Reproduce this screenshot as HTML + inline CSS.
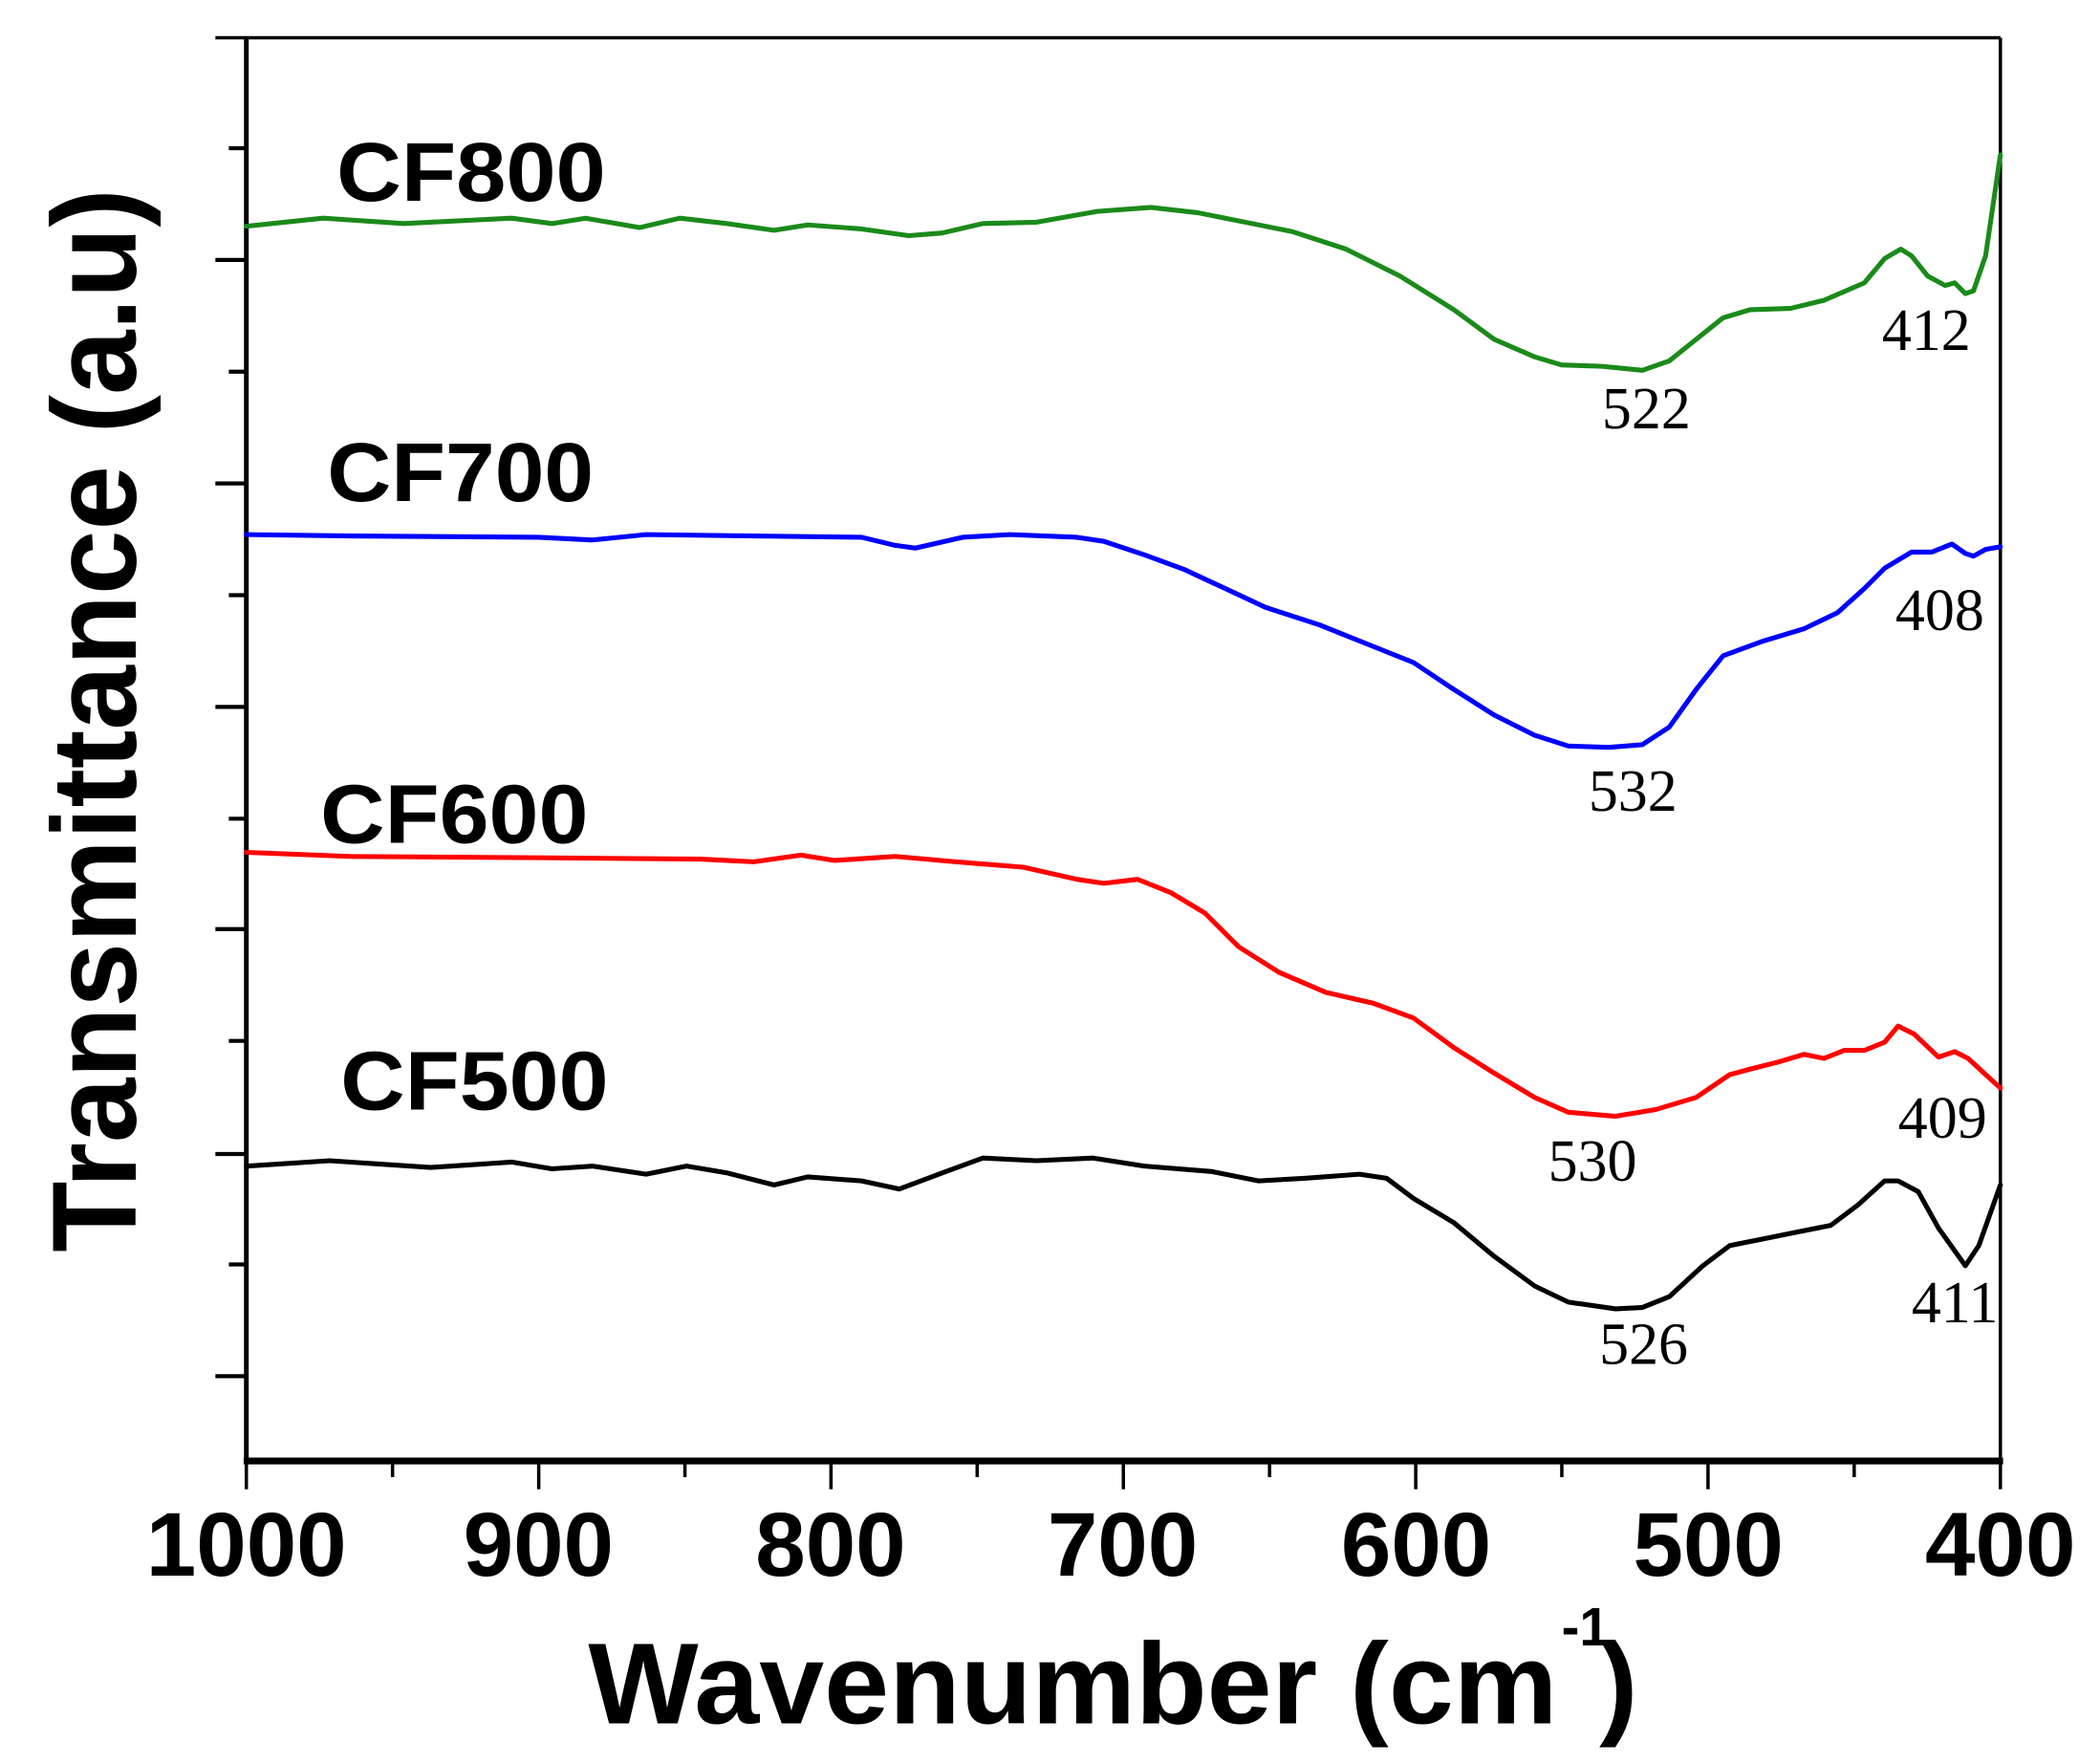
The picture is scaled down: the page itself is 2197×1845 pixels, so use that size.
<!DOCTYPE html>
<html><head><meta charset="utf-8"><style>html,body{margin:0;padding:0;background:#fff}svg{display:block}</style></head>
<body>
<svg width="2197" height="1845" viewBox="0 0 1560 1310" xmlns="http://www.w3.org/2000/svg">
<rect width="1560" height="1310" fill="#fff"/>
<g stroke="#000" fill="none">
<line x1="160" y1="28" x2="1486" y2="28" stroke-width="2.5"/>
<line x1="1486" y1="28" x2="1486" y2="1085" stroke-width="2.5"/>
<line x1="183" y1="28" x2="183" y2="1087" stroke-width="3.5"/>
<line x1="181" y1="1085" x2="1488" y2="1085" stroke-width="5"/>
<path d="M160 193H183M160 359H183M160 525H183M160 690H183M160 857H183M160 1022H183" stroke-width="3"/>
<path d="M170 110H183M170 276H183M170 442H183M170 608H183M170 773H183M170 939H183" stroke-width="3"/>
<path d="M183 1085V1106M400.2 1085V1106M617.3 1085V1106M834.5 1085V1106M1051.7 1085V1106M1268.8 1085V1106M1486 1085V1106" stroke-width="2.5"/>
<path d="M291.6 1085V1097M508.8 1085V1097M725.9 1085V1097M943.1 1085V1097M1160.2 1085V1097M1377.4 1085V1097" stroke-width="2.5"/>
</g>
<g fill="none" stroke-width="3.6" stroke-linejoin="round" stroke-linecap="round">
<polyline stroke="#1a8a1a" points="183,168 240,162 300,166 380,162 410,166 435,162 475,169 505,162 540,166 575,171 600,167 640,170 675,175 700,173 730,166 770,165 815,157 855,154 890,158 930,166 960,172 1000,185 1040,205 1080,230 1110,252 1140,265 1160,271 1190,272 1220,275 1240,268 1260,252 1280,236 1300,230 1330,229 1355,223 1385,210 1400,192 1412,185 1420,190 1432,205 1445,212 1452,210 1460,218 1466,216 1475,190 1486,115"/>
<polyline stroke="#0000ff" points="183,397 260,398 400,399 440,401 480,397 640,399 665,405 680,407 715,399 750,397 800,399 820,402 850,412 880,423 910,437 940,451 980,464 1020,480 1050,492 1080,512 1110,531 1140,546 1165,554 1195,555 1220,553 1240,540 1260,512 1280,487 1310,476 1340,467 1365,455 1385,437 1400,422 1420,410 1435,410 1450,404 1460,411 1466,413 1475,408 1486,406"/>
<polyline stroke="#ff0000" points="183,633 260,636 400,637 520,638 560,640 595,635 620,639 665,636 710,640 760,644 800,653 820,656 845,653 870,663 895,678 920,703 950,722 985,737 1020,745 1050,756 1080,778 1110,797 1140,815 1165,826 1200,829 1230,824 1260,815 1285,798 1300,794 1320,789 1340,783 1355,786 1370,780 1385,780 1400,774 1410,762 1422,768 1440,785 1452,781 1462,786 1475,798 1486,808"/>
<polyline stroke="#000" points="183,866 245,862 320,867 380,863 410,868 440,866 480,872 510,866 540,871 575,880 600,874 640,877 668,883 700,871 730,860 770,862 812,860 850,866 900,870 935,877 970,875 1010,872 1030,875 1050,890 1080,908 1110,933 1140,955 1165,967 1200,972 1220,971 1240,963 1265,940 1285,925 1310,920 1335,915 1360,910 1380,895 1400,877 1410,877 1425,885 1440,912 1460,940 1470,925 1486,880"/>
</g>
<g font-family="'Liberation Sans',Arial,sans-serif" font-weight="bold" fill="#000">
<g font-size="67" text-anchor="middle">
<text x="183" y="1170">1000</text><text x="400" y="1170">900</text><text x="617" y="1170">800</text><text x="834" y="1170">700</text><text x="1052" y="1170">600</text><text x="1269" y="1170">500</text><text x="1486" y="1170">400</text>
</g>
<text x="437" y="1280" font-size="86" textLength="720" lengthAdjust="spacingAndGlyphs">Wavenumber (cm</text>
<text x="1160" y="1222" font-size="40">-1</text>
<text x="1188" y="1280" font-size="86">)</text>
<text transform="translate(101,930) rotate(-90)" font-size="89" textLength="790" lengthAdjust="spacingAndGlyphs">Transmittance (a.u)</text>
<g font-size="62">
<text x="250" y="149" textLength="200" lengthAdjust="spacingAndGlyphs">CF800</text>
<text x="243" y="372" textLength="198" lengthAdjust="spacingAndGlyphs">CF700</text>
<text x="238" y="626" textLength="199" lengthAdjust="spacingAndGlyphs">CF600</text>
<text x="253" y="824" textLength="199" lengthAdjust="spacingAndGlyphs">CF500</text>
</g>
</g>
<g font-family="'Liberation Serif','Times New Roman',serif" font-size="44" fill="#000">
<text x="1398" y="260">412</text><text x="1190" y="318">522</text>
<text x="1408" y="468">408</text><text x="1180" y="602">532</text>
<text x="1410" y="845">409</text><text x="1150" y="877">530</text>
<text x="1420" y="982">411</text><text x="1188" y="1013">526</text>
</g>
</svg>
</body></html>
